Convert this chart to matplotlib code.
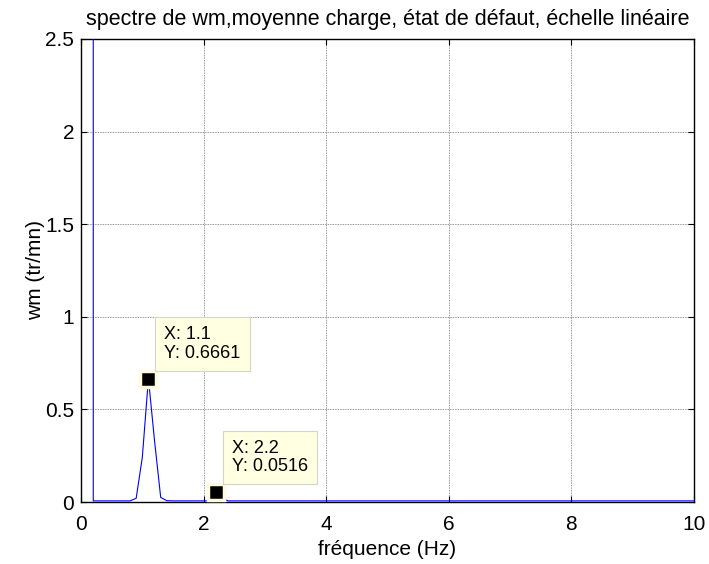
import numpy as np
import matplotlib
matplotlib.use("Agg")
import matplotlib.pyplot as plt

plt.rcParams['font.family'] = ['Liberation Sans', 'DejaVu Sans']

# Spectrum of wm: frequency grid (Hz) and amplitude (tr/mn)
freq = np.round(np.arange(1, 101) * 0.1, 1)
amplitude = [
    1450.0, 0.006, 0.006, 0.006, 0.006, 0.006, 0.006, 0.006, 0.020, 0.240,
    0.6661, 0.330, 0.025, 0.007, 0.006, 0.006, 0.006, 0.006, 0.006, 0.006,
    0.007, 0.0516, 0.020, 0.006, 0.006, 0.006, 0.006, 0.006, 0.006, 0.006,
    0.006, 0.006, 0.006, 0.006, 0.006, 0.006, 0.006, 0.006, 0.006, 0.006,
    0.006, 0.006, 0.006, 0.006, 0.006, 0.006, 0.006, 0.006, 0.006, 0.006,
    0.006, 0.006, 0.006, 0.006, 0.006, 0.006, 0.006, 0.006, 0.006, 0.006,
    0.006, 0.006, 0.006, 0.006, 0.006, 0.006, 0.006, 0.006, 0.006, 0.006,
    0.006, 0.006, 0.006, 0.006, 0.006, 0.006, 0.006, 0.006, 0.006, 0.006,
    0.006, 0.006, 0.006, 0.006, 0.006, 0.006, 0.006, 0.006, 0.006, 0.006,
    0.006, 0.006, 0.006, 0.006, 0.006, 0.006, 0.006, 0.006, 0.006, 0.006,
]

# Data tips shown on the spectrum
tip_x = [1.1, 2.2]
tip_y = [0.6661, 0.0516]

x_ticks = [0, 2, 4, 6, 8, 10]
y_ticks = [0, 0.5, 1, 1.5, 2, 2.5]
y_tick_labels = ['0', '0.5', '1', '1.5', '2', '2.5']

fig = plt.figure(figsize=(7.09, 5.64), dpi=100)
ax = fig.add_axes([81 / 709, 1 - 502 / 564, 613 / 709, 463 / 564])

ax.plot(freq, amplitude, color='#0000ff', lw=0.8, zorder=3)

ax.set_xlim(0, 10)
ax.set_ylim(0, 2.5)
ax.set_xticks(x_ticks)
ax.set_yticks(y_ticks)
ax.set_yticklabels(y_tick_labels)
ax.grid(True, color='0.45', linestyle=(0, (1, 1)), lw=0.6)
ax.set_axisbelow(True)

ax.tick_params(direction='in', top=True, right=True, length=4.5, width=0.8,
               labelsize=15, colors='black')
ax.tick_params(axis='x', pad=9)
ax.tick_params(axis='y', pad=5)
for sp in ax.spines.values():
    sp.set_linewidth(1.0)
    sp.set_color('black')

ax.set_title('spectre de wm,moyenne charge, état de défaut, échelle linéaire',
             fontsize=15.5, pad=10)
ax.set_xlabel('fréquence (Hz)', fontsize=15, labelpad=5)
ax.set_ylabel('wm (tr/mn)', fontsize=15, labelpad=0)

for tx, ty in zip(tip_x, tip_y):
    ax.plot([tx], [ty], marker='s', markersize=12, markerfacecolor='black',
            markeredgecolor='#fffbdc', markeredgewidth=2.5, zorder=5,
            clip_on=False)
    ax.annotate(f'X: {tx:g}\nY: {ty:.4f}', xy=(tx, ty),
                xytext=(16, 17), textcoords='offset pixels',
                ha='left', va='bottom', fontsize=13, linespacing=1.1,
                bbox=dict(boxstyle='square,pad=0.5', facecolor='#ffffe1',
                          edgecolor='#d4d4c8', lw=0.8),
                zorder=6)

fig.savefig('out.png', dpi=100)
